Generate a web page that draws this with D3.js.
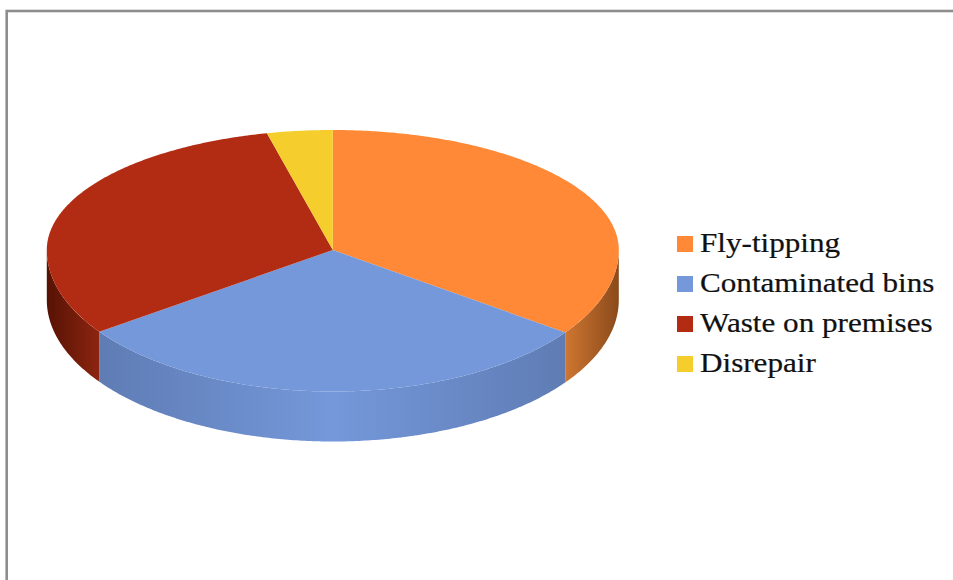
<!DOCTYPE html>
<html>
<head>
<meta charset="utf-8">
<script src="https://cdn.jsdelivr.net/npm/d3@7/dist/d3.min.js"></script>
<style>
  html, body { margin: 0; padding: 0; background: #fff; overflow: hidden; }
  svg { display: block; }
  text { font-family: "Liberation Serif", serif; font-size: 26.5px; fill: #111; stroke: #111; stroke-width: 0.2px; }
</style>
</head>
<body>
<svg id="chart" width="953" height="580"></svg>
<script>
  // (share of the circle, percent)
  var categories = ["Fly-tipping", "Contaminated bins", "Waste on premises", "Disrepair"];
  var shares = [34.9, 30.3, 31.1, 3.7];
  var topColors = ["#ff8936", "#7498da", "#b22c13", "#f5cd2d"];

  var svg = d3.select("#chart");
  var defs = svg.append("defs");

  // frame runs off the right and bottom of the shot
  svg.append("rect").attr("x", 6.7).attr("y", 11).attr("width", 1000).attr("height", 1000)
    .attr("fill", "none").attr("stroke", "#8e8e8e").attr("stroke-width", 2.6);

  var cx = 332.8, cy = 250, rx = 286, ryBack = 120, ryFront = 141.5, depth = 50;

  // tilted disc: the front half looks deeper than the back half (perspective)
  function pt(a, dy) {
    var c = Math.cos(a);
    return [cx + rx * Math.sin(a), cy - c * (c > 0 ? ryBack : ryFront) + (dy || 0)];
  }
  function samples(a0, a1) {
    var n = Math.max(2, Math.ceil((a1 - a0) / 0.01));
    return d3.range(n + 1).map(function (i) { return a0 + (a1 - a0) * i / n; });
  }
  var line = d3.line();

  var arcs = d3.pie().sort(null)(shares);

  // side walls, only the part of each slice that faces the viewer
  var wallGradients = [
    { slice: 0, stops: [["0", "#cf7631"], ["1", "#8a4a1b"]] },
    { slice: 1, stops: [["0", "#5f7cb4"], ["0.5", "#7498da"], ["1", "#5f7cb4"]] },
    { slice: 2, stops: [["0", "#571204"], ["1", "#8c2510"]] }
  ];
  wallGradients.forEach(function (w) {
    var d = arcs[w.slice];
    var from = Math.max(d.startAngle, Math.PI / 2), to = Math.min(d.endAngle, Math.PI * 1.5);
    var x0 = pt(from)[0], x1 = pt(to)[0];
    var g = defs.append("linearGradient").attr("id", "wall" + w.slice)
      .attr("gradientUnits", "userSpaceOnUse")
      .attr("x1", Math.min(x0, x1)).attr("x2", Math.max(x0, x1)).attr("y1", 0).attr("y2", 0);
    g.selectAll("stop").data(w.stops).join("stop")
      .attr("offset", function (s) { return s[0]; })
      .attr("stop-color", function (s) { return s[1]; });
    var angles = samples(from, to);
    var outline = angles.map(function (a) { return pt(a); })
      .concat(angles.slice().reverse().map(function (a) { return pt(a, depth); }));
    svg.append("path").attr("d", line(outline) + "Z").attr("fill", "url(#wall" + w.slice + ")");
  });

  // top faces
  svg.selectAll("path.top").data(arcs).join("path").attr("class", "top")
    .attr("fill", function (d, i) { return topColors[i]; })
    .attr("d", function (d) {
      return line([[cx, cy]].concat(samples(d.startAngle, d.endAngle).map(function (a) { return pt(a); }))) + "Z";
    });

  // legend
  var legendY = d3.scalePoint().domain(categories).range([244, 364]);
  var legend = svg.selectAll("g.key").data(categories).join("g").attr("class", "key")
    .attr("transform", function (d) { return "translate(677," + legendY(d) + ")"; });
  legend.append("rect").attr("y", -8).attr("width", 16).attr("height", 16)
    .attr("fill", function (d, i) { return topColors[i]; });
  legend.append("text").attr("transform", "translate(23,8) scale(1.175,1)").text(function (d) { return d; });
</script>
</body>
</html>
